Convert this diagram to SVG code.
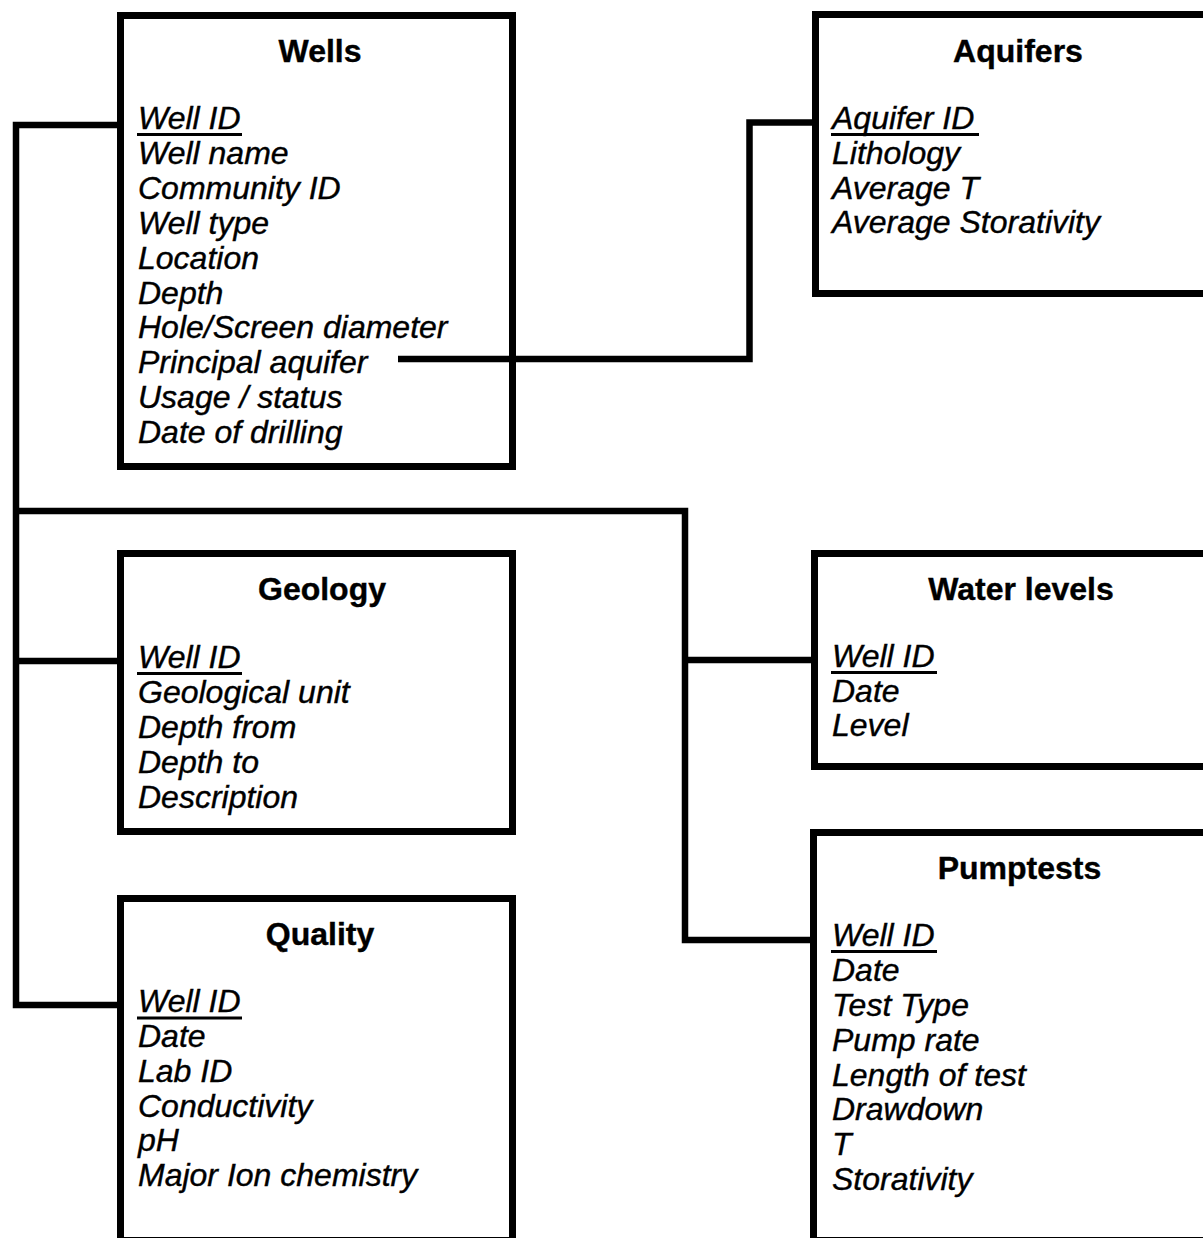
<svg xmlns="http://www.w3.org/2000/svg" width="1203" height="1238" viewBox="0 0 1203 1238">
  <style>
    .box { fill: none; stroke: #000000; stroke-width: 7; }
    .link { fill: none; stroke: #000000; stroke-width: 6.5; stroke-linejoin: miter; stroke-linecap: butt; }
    .title { font-family: "Liberation Sans", Arial, sans-serif; font-weight: bold; font-size: 32px; text-anchor: middle; fill: #000000; stroke: #000000; stroke-width: 0.4; }
    .field { font-family: "Liberation Sans", Arial, sans-serif; font-style: italic; font-size: 32px; fill: #000000; stroke: #000000; stroke-width: 0.4; }
    .key { stroke: #000000; stroke-width: 3; }
  </style>
  <rect width="1203" height="1238" fill="#ffffff"/>

  <!-- connectors -->
  <g id="connectors">
    <path class="link" d="M120,125 H16 V1005 H120"/>
    <path class="link" d="M16,661 H120"/>
    <path class="link" d="M16,511 H685 V940 H814"/>
    <path class="link" d="M685,660 H814"/>
    <path class="link" d="M398,359 H749.5 V122.5 H816"/>
  </g>

  <!-- Wells table -->
  <g id="wells">
    <rect class="box" x="120.5" y="15.5" width="392" height="451"/>
    <line class="key" x1="137" y1="134.5" x2="242" y2="134.5"/>
    <text class="title" x="320" y="61.5">Wells</text>
    <text class="field" x="138" y="129">Well ID</text>
    <text class="field" x="138" y="164">Well name</text>
    <text class="field" x="138" y="199">Community ID</text>
    <text class="field" x="138" y="233.5">Well type</text>
    <text class="field" x="138" y="268.5">Location</text>
    <text class="field" x="138" y="303.5">Depth</text>
    <text class="field" x="138" y="338">Hole/Screen diameter</text>
    <text class="field" x="138" y="373">Principal aquifer</text>
    <text class="field" x="138" y="408">Usage / status</text>
    <text class="field" x="138" y="443">Date of drilling</text>
  </g>

  <!-- Aquifers table -->
  <g id="aquifers">
    <rect class="box" x="815.5" y="14.5" width="420" height="279"/>
    <line class="key" x1="831" y1="134.5" x2="979" y2="134.5"/>
    <text class="title" x="1018" y="61.5">Aquifers</text>
    <text class="field" x="832" y="129">Aquifer ID</text>
    <text class="field" x="832" y="164">Lithology</text>
    <text class="field" x="832" y="198.5">Average T</text>
    <text class="field" x="832" y="233">Average Storativity</text>
  </g>

  <!-- Geology table -->
  <g id="geology">
    <rect class="box" x="120.5" y="553.5" width="392" height="278"/>
    <line class="key" x1="137" y1="673.5" x2="242" y2="673.5"/>
    <text class="title" x="322" y="599.5">Geology</text>
    <text class="field" x="138" y="668">Well ID</text>
    <text class="field" x="138" y="703">Geological unit</text>
    <text class="field" x="138" y="738">Depth from</text>
    <text class="field" x="138" y="773">Depth to</text>
    <text class="field" x="138" y="807.5">Description</text>
  </g>

  <!-- Quality table -->
  <g id="quality">
    <rect class="box" x="120.5" y="898.5" width="392" height="342"/>
    <line class="key" x1="137" y1="1018" x2="242" y2="1018"/>
    <text class="title" x="320" y="944.5">Quality</text>
    <text class="field" x="138" y="1012">Well ID</text>
    <text class="field" x="138" y="1047">Date</text>
    <text class="field" x="138" y="1082">Lab ID</text>
    <text class="field" x="138" y="1116.5">Conductivity</text>
    <text class="field" x="138" y="1151">pH</text>
    <text class="field" x="138" y="1185.5">Major Ion chemistry</text>
  </g>

  <!-- Water levels table -->
  <g id="water-levels">
    <rect class="box" x="814.5" y="553.5" width="420" height="213"/>
    <line class="key" x1="831" y1="672.5" x2="937" y2="672.5"/>
    <text class="title" x="1021" y="599.5">Water levels</text>
    <text class="field" x="832" y="667">Well ID</text>
    <text class="field" x="832" y="701.5">Date</text>
    <text class="field" x="832" y="736">Level</text>
  </g>

  <!-- Pumptests table -->
  <g id="pumptests">
    <rect class="box" x="813.5" y="832.5" width="420" height="408"/>
    <line class="key" x1="831" y1="951.5" x2="937" y2="951.5"/>
    <text class="title" x="1019.5" y="879">Pumptests</text>
    <text class="field" x="832" y="946">Well ID</text>
    <text class="field" x="832" y="981">Date</text>
    <text class="field" x="832" y="1016">Test Type</text>
    <text class="field" x="832" y="1051">Pump rate</text>
    <text class="field" x="832" y="1086">Length of test</text>
    <text class="field" x="832" y="1120">Drawdown</text>
    <text class="field" x="832" y="1155">T</text>
    <text class="field" x="832" y="1190">Storativity</text>
  </g>
</svg>
